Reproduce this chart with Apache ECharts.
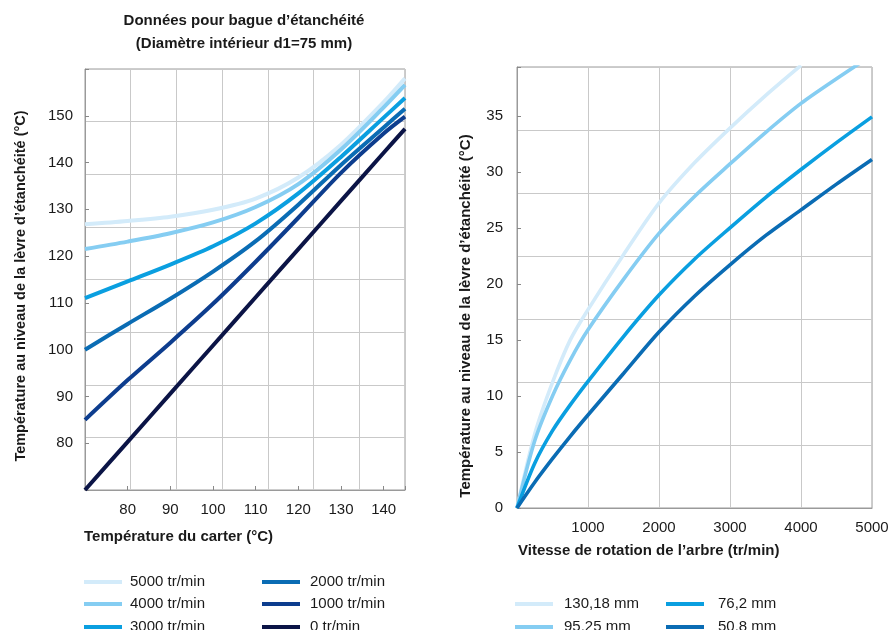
<!DOCTYPE html>
<html><head><meta charset="utf-8">
<script src="https://cdn.jsdelivr.net/npm/echarts@6/dist/echarts.min.js"></script>
<style>html,body{margin:0;padding:0;background:#fff}#c{width:892px;height:630px}</style>
</head><body><div id="c"></div>
<script>
// ---- Left chart data (Température du carter vs lèvre) ----
const carterTemp = [70, 80, 90, 100, 110, 120, 130, 140, 145];
const lip5000 = [126.8, 127.5, 128.4, 129.9, 132.3, 136.8, 143.8, 152.9, 158.0];
const lip4000 = [121.5, 123.1, 124.9, 127.2, 130.5, 135.4, 142.8, 151.8, 156.6];
const lip3000 = [111.0, 114.6, 118.2, 122.1, 127.0, 133.4, 141.2, 149.6, 153.8];
const lip2000 = [100.0, 105.5, 110.9, 116.7, 123.2, 131.0, 139.5, 147.5, 151.5];
const lip1000 = [85.0, 93.5, 101.5, 109.8, 118.8, 128.2, 137.8, 146.2, 149.8];
const lip0    = [70.0, 80.3, 90.6, 100.9, 111.2, 121.5, 131.8, 142.1, 147.2];
const leftNames = ['5000 tr/min', '4000 tr/min', '3000 tr/min', '2000 tr/min', '1000 tr/min', '0 tr/min'];

// ---- Right chart data (Vitesse de rotation vs température) ----
const speed = [0, 250, 500, 750, 1000, 1500, 2000, 2500, 3000, 3500, 4000, 4500, 5000];
const d130 = [0, 6.6, 11.2, 15.0, 17.7, 22.6, 27.2, 30.8, 33.9, 36.8, 39.5, null, null];
const d95  = [0, 6.0, 10.0, 13.2, 15.9, 20.4, 24.5, 27.8, 30.7, 33.5, 36.1, 38.3, 40.4];
const d76  = [0, 4.0, 6.9, 9.2, 11.3, 15.3, 19.0, 22.2, 25.0, 27.7, 30.2, 32.6, 34.9];
const d50  = [0, 2.3, 4.4, 6.4, 8.3, 12.0, 15.7, 18.9, 21.7, 24.3, 26.6, 28.9, 31.1];
const rightNames = ['130,18 mm', '95,25 mm', '76,2 mm', '50,8 mm'];

const colors6 = ['#d3ebfa', '#85cdf2', '#0a9fe0', '#0a6cb4', '#0d3d8e', '#0b1446'];
const colors4 = ['#d3ebfa', '#85cdf2', '#0a9fe0', '#0a6cb4'];

const FONT = '"Liberation Sans", Arial, Helvetica, sans-serif';
const txt = '#1a1a1a';
const gridCol = '#c9c9c9';
const frameCol = '#9a9a9a';

function pairs(xs, ys) { return xs.map((x, i) => [x, ys[i]]); }

const leftSeriesData = [lip5000, lip4000, lip3000, lip2000, lip1000, lip0];
const rightSeriesData = [d130, d95, d76, d50];

const series = [];
leftSeriesData.forEach((ys, i) => {
  series.push({
    name: leftNames[i], type: 'line', xAxisIndex: 0, yAxisIndex: 0,
    data: pairs(carterTemp, ys), smooth: 0.3, showSymbol: false, symbol: 'none',
    lineStyle: { width: 4, color: colors6[i] }, itemStyle: { color: colors6[i] },
    z: 10 + i
  });
});
rightSeriesData.forEach((ys, i) => {
  series.push({
    name: rightNames[i], type: 'line', xAxisIndex: 2, yAxisIndex: 2,
    data: pairs(speed, ys), smooth: 0.3, showSymbol: false, symbol: 'none',
    lineStyle: { width: 3.6, color: colors4[i] }, itemStyle: { color: colors4[i] },
    clip: true, z: 10 + i
  });
});

function labelFmt(lo, hi) {
  return v => (v >= lo - 1e-6 && v <= hi + 1e-6) ? String(Math.round(v)) : '';
}

const labelStyle = { color: txt, fontSize: 15, fontFamily: FONT };

function legendItem(name, left, top, padLeft) {
  return {
    data: [name], orient: 'horizontal', left: left, top: top,
    icon: 'rect', itemWidth: 38, itemHeight: 4, itemGap: 0,
    selectedMode: false, padding: 0,
    textStyle: { color: txt, fontSize: 15, fontFamily: FONT, lineHeight: 18, padding: [0, 0, 0, padLeft] }
  };
}

const option = {
  animation: false,
  backgroundColor: '#fff',
  grid: [
    { left: 85, top: 69, width: 320, height: 421, show: true, borderColor: frameCol, borderWidth: 1, containLabel: false },
    { left: 517, top: 67, width: 355, height: 441, show: true, borderColor: frameCol, borderWidth: 1, containLabel: false }
  ],
  xAxis: [
    { type: 'value', gridIndex: 0, min: 70, max: 145, interval: 10,
      axisLine: { show: true, lineStyle: { color: frameCol } },
      axisTick: { show: true, inside: true, length: 4, lineStyle: { color: '#888' } },
      axisLabel: Object.assign({ margin: 12, formatter: labelFmt(80, 140) }, labelStyle),
      splitLine: { show: false } },
    { type: 'value', gridIndex: 0, min: 0, max: 7, interval: 1, position: 'bottom',
      axisLine: { show: false }, axisTick: { show: false }, axisLabel: { show: false },
      splitLine: { show: true, lineStyle: { color: gridCol, width: 1 } } },
    { type: 'value', gridIndex: 1, min: 0, max: 5000, interval: 1000,
      axisLine: { show: true, lineStyle: { color: frameCol } },
      axisTick: { show: false },
      axisLabel: Object.assign({ margin: 12, formatter: labelFmt(1000, 5000) }, labelStyle),
      splitLine: { show: true, lineStyle: { color: gridCol, width: 1 } } }
  ],
  yAxis: [
    { type: 'value', gridIndex: 0, min: 70, max: 160, interval: 10,
      axisLine: { show: true, lineStyle: { color: frameCol } },
      axisTick: { show: true, inside: true, length: 4, lineStyle: { color: '#888' } },
      axisLabel: Object.assign({ margin: 12, formatter: labelFmt(80, 150) }, labelStyle),
      splitLine: { show: false } },
    { type: 'value', gridIndex: 0, min: 0, max: 8, interval: 1, position: 'left',
      axisLine: { show: false }, axisTick: { show: false }, axisLabel: { show: false },
      splitLine: { show: true, lineStyle: { color: gridCol, width: 1 } } },
    { type: 'value', gridIndex: 1, min: 0, max: 39.35, interval: 5,
      axisLine: { show: true, lineStyle: { color: frameCol } },
      axisTick: { show: true, inside: true, length: 4, lineStyle: { color: '#888' } },
      axisLabel: Object.assign({ margin: 14, formatter: labelFmt(0, 35) }, labelStyle),
      splitLine: { show: false } },
    { type: 'value', gridIndex: 1, min: 0, max: 7, interval: 1, position: 'left',
      axisLine: { show: false }, axisTick: { show: false }, axisLabel: { show: false },
      splitLine: { show: true, lineStyle: { color: gridCol, width: 1 } } }
  ],
  legend: [
    legendItem(leftNames[0], 84, 573, 3),
    legendItem(leftNames[1], 84, 595, 3),
    legendItem(leftNames[2], 84, 618, 3),
    legendItem(leftNames[3], 262, 573, 5),
    legendItem(leftNames[4], 262, 595, 5),
    legendItem(leftNames[5], 262, 618, 5),
    legendItem(rightNames[0], 515, 595, 6),
    legendItem(rightNames[1], 515, 618, 6),
    legendItem(rightNames[2], 666, 595, 9),
    legendItem(rightNames[3], 666, 618, 9)
  ],
  graphic: [
    { type: 'text', x: 244, y: 21, style: { text: 'Données pour bague d’étanchéité', fill: txt, font: 'bold 15px ' + FONT, textAlign: 'center', textVerticalAlign: 'middle' } },
    { type: 'text', x: 244, y: 44, style: { text: '(Diamètre intérieur d1=75 mm)', fill: txt, font: 'bold 15px ' + FONT, textAlign: 'center', textVerticalAlign: 'middle' } },
    { type: 'text', x: 84, y: 537, style: { text: 'Température du carter (°C)', fill: txt, font: 'bold 15px ' + FONT, textAlign: 'left', textVerticalAlign: 'middle' } },
    { type: 'text', x: 518, y: 551, style: { text: 'Vitesse de rotation de l’arbre (tr/min)', fill: txt, font: 'bold 15px ' + FONT, textAlign: 'left', textVerticalAlign: 'middle' } },
    { type: 'text', x: 21, y: 286, rotation: Math.PI / 2, style: { text: 'Température au niveau de la lèvre d’étanchéité (°C)', fill: txt, font: 'bold 14.5px ' + FONT, textAlign: 'center', textVerticalAlign: 'middle' } },
    { type: 'text', x: 466, y: 316, rotation: Math.PI / 2, style: { text: 'Température au niveau de la lèvre d’étanchéité (°C)', fill: txt, font: 'bold 15px ' + FONT, textAlign: 'center', textVerticalAlign: 'middle' } }
  ],
  series: series
};

const chart = echarts.init(document.getElementById('c'), null, { renderer: 'canvas' });
chart.setOption(option);
</script>
</body></html>
